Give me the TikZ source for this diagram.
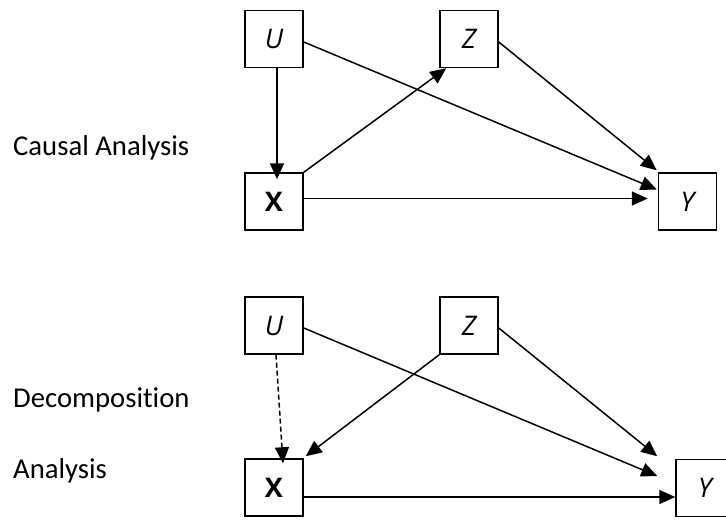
\documentclass[tikz,border=0pt]{standalone}
\usepackage{fontspec}
\setmainfont{Carlito}[Ligatures=NoCommon]
\newfontfamily\boxfont{Open Sans}
\usetikzlibrary{arrows.meta,calc}
\begin{document}
\begin{tikzpicture}[x=1pt,y=-1pt,
  vbox/.style={draw,line width=1.5pt,minimum width=58pt,minimum height=57pt,inner sep=0pt,
    font=\boxfont\fontsize{27}{32}\selectfont},
  conn/.style={line width=1.5pt,-{Triangle[length=16pt,width=14pt]}},
  lbl/.style={anchor=base west,inner sep=0pt,font=\fontsize{28.7}{34}\selectfont}]
\useasboundingbox (0,0) rectangle (726,525);
\clip (0,0) rectangle (726,525);
% top diagram
\node[vbox] (U1) at (274,39) {\itshape U};
\node[vbox] (Z1) at (469,39) {\itshape Z};
\node[vbox] (X1) at (274,201.5) {\bfseries X};
\node[vbox] (Y1) at (687.5,201.5) {\itshape Y};
\node[lbl] (L1) at (13,155) {Causal Analysis};
\draw[conn] ($(U1.south)+(3,0)$) -- ($(X1.north)+(3,7)$);
\draw[conn] (X1.north east) -- ($(Z1.south west)+(7,0)$);
\draw[conn] ($(U1.east)+(0,3)$) -- ($(Y1.west)+(-1,-12)$);
\draw[conn] ($(Z1.east)+(0,3)$) -- ($(Y1.north west)+(-1,-2)$);
\draw[conn] ($(X1.east)+(0,-3)$) -- ($(Y1.west)+(-10,-3)$);
% bottom diagram
\node[vbox] (U2) at (274,325.5) {\itshape U};
\node[vbox] (Z2) at (469,325.5) {\itshape Z};
\node[vbox] (X2) at (274,487.5) {\bfseries X};
\node[vbox] (Y2) at (705,488) {\itshape Y};
\node[lbl] (L2) at (13,407) {Decomposition};
\node[lbl] (L3) at (13,478) {Analysis};
\draw[conn,dash pattern=on 5pt off 3pt] ($(U2.south)+(2,0)$) -- ($(X2.north)+(9,5)$);
\draw[conn] (Z2.south west) -- ($(X2.north east)+(2,-2)$);
\draw[conn] ($(U2.east)+(0,2.5)$) -- ($(Y2.west)+(-18,-12)$);
\draw[conn] ($(Z2.east)+(0,2.5)$) -- ($(Y2.north west)+(-18,-2.5)$);
\draw[conn] ($(X2.east)+(0,9.5)$) -- ($(Y2.west)+(0,9)$);
\end{tikzpicture}
\end{document}
